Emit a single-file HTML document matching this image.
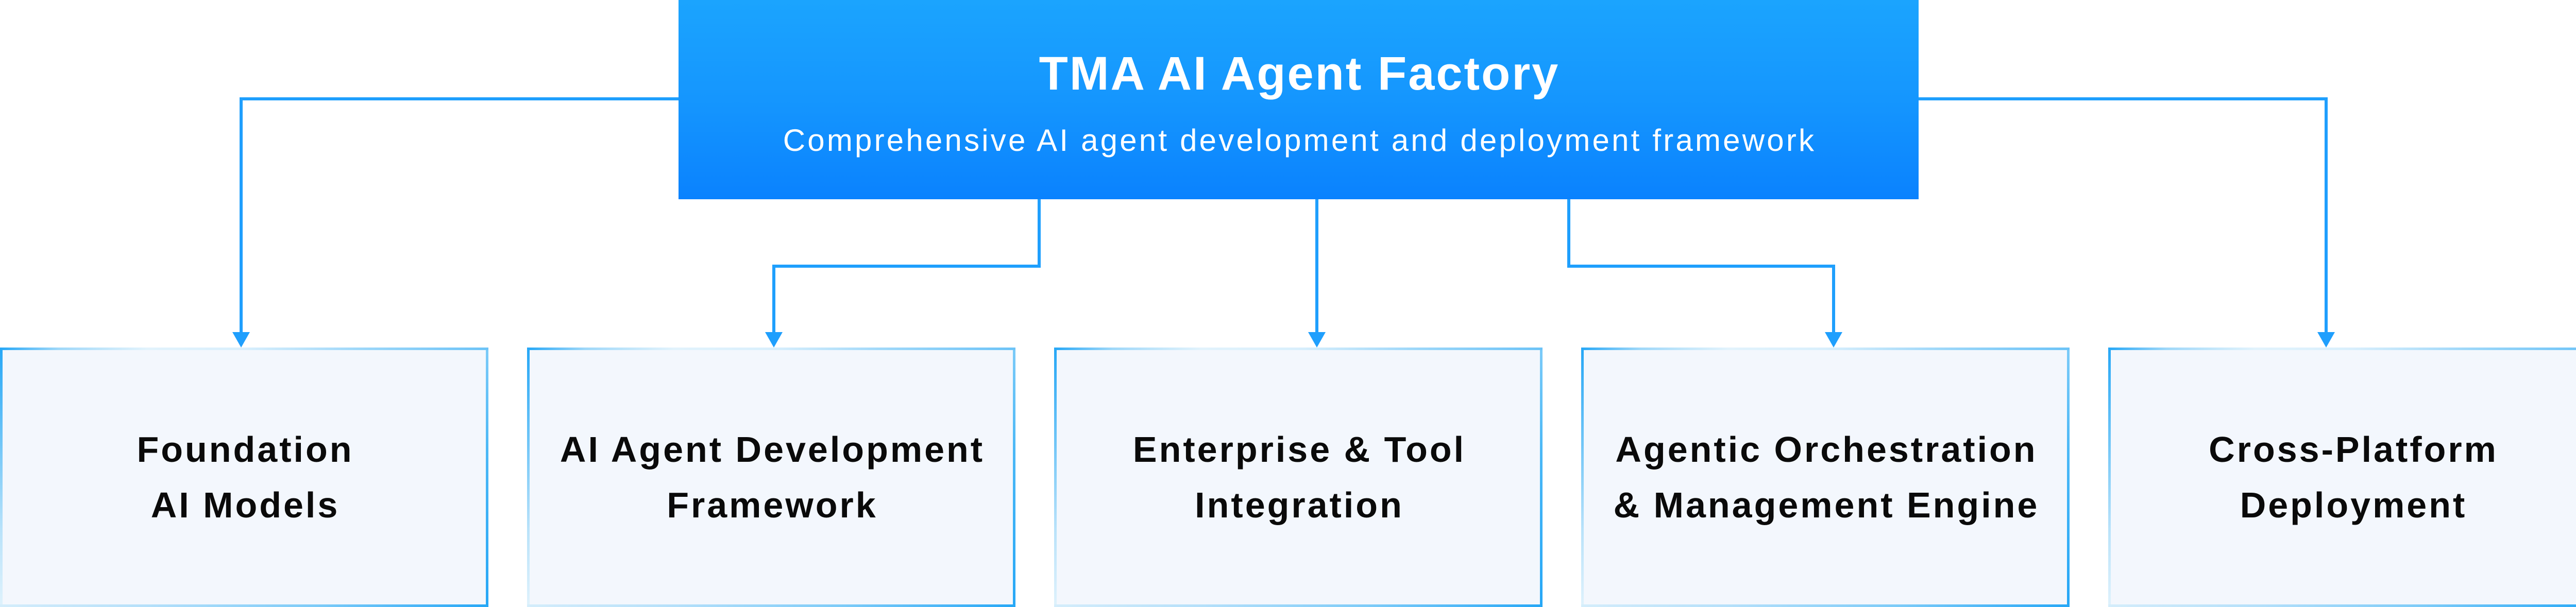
<!DOCTYPE html>
<html>
<head>
<meta charset="utf-8">
<style>
  html, body { margin:0; padding:0; }
  body { width:5040px; height:1179px; position:relative; overflow:hidden; background:#ffffff; font-family:"Liberation Sans", Arial, sans-serif; }
  .top {
    position:absolute; left:1317px; top:0; width:2407px; height:387px;
    background:linear-gradient(to bottom, #1ba4fe 0%, #1596fe 50%, #0a82fe 100%);
  }
  .title {
    position:absolute; left:0; right:0; top:97px; text-align:center;
    color:#fff; font-weight:bold; font-size:92px; line-height:92px; letter-spacing:3px; padding-left:3px;
    white-space:nowrap;
  }
  .sub {
    position:absolute; left:0; right:0; top:243px; text-align:center;
    color:#fff; font-weight:normal; font-size:60px; line-height:60px; letter-spacing:4.2px; padding-left:4px;
    white-space:nowrap;
  }
  .box {
    position:absolute; top:675px; width:948px; height:504px; box-sizing:border-box;
    background:
      linear-gradient(to right, #26a7f6 0%, #9fd8f9 12%, #e2f3fc 30%, #d9effc 50%, #9ad6f9 75%, #6cc3f7 100%) top left / 100% 5px no-repeat,
      linear-gradient(to right, #d4edfb 0%, #b5e0fa 30%, #7ccbf8 65%, #26a7f6 100%) bottom left / 100% 5px no-repeat,
      linear-gradient(to bottom, #26a7f6 0%, #6cc4f7 35%, #b8e2fa 70%, #dff2fc 100%) top left / 5px 100% no-repeat,
      linear-gradient(to bottom, #7ccbf8 0%, #4bb8f6 40%, #26a7f6 100%) top right / 5px 100% no-repeat,
      #f3f7fd;
  }
  .lbl {
    position:absolute; left:0; right:0; top:144px; text-align:center;
    color:#0a0a0a; font-weight:bold; font-size:70px; line-height:108px; letter-spacing:4px; padding-left:4px;
    white-space:nowrap;
  }
  svg { position:absolute; left:0; top:0; }
</style>
</head>
<body>

<svg width="5040" height="1179" viewBox="0 0 5040 1179">
  <g fill="none" stroke="#1f9ffd" stroke-width="6" stroke-linejoin="miter" stroke-linecap="butt">
    <path d="M1317 192 H468 V648"/>
    <path d="M3724 192 H4515 V648"/>
    <path d="M2017 387 V517 H1502 V648"/>
    <path d="M2556 387 V648"/>
    <path d="M3045 387 V517 H3559 V648"/>
  </g>
  <g fill="#1f9ffd">
    <polygon points="451,645 485,645 468,675"/>
    <polygon points="1485,645 1519,645 1502,675"/>
    <polygon points="2539,645 2573,645 2556,675"/>
    <polygon points="3542,645 3576,645 3559,675"/>
    <polygon points="4498,645 4532,645 4515,675"/>
  </g>
</svg>

<div class="top">
  <div class="title">TMA AI Agent Factory</div>
  <div class="sub">Comprehensive AI agent development and deployment framework</div>
</div>

<div class="box" style="left:0px;"><div class="lbl">Foundation<br>AI Models</div></div>
<div class="box" style="left:1023px;"><div class="lbl">AI Agent Development<br>Framework</div></div>
<div class="box" style="left:2046px;"><div class="lbl">Enterprise &amp; Tool<br>Integration</div></div>
<div class="box" style="left:3069px;"><div class="lbl">Agentic Orchestration<br>&amp; Management Engine</div></div>
<div class="box" style="left:4092px;"><div class="lbl">Cross-Platform<br>Deployment</div></div>

</body>
</html>
